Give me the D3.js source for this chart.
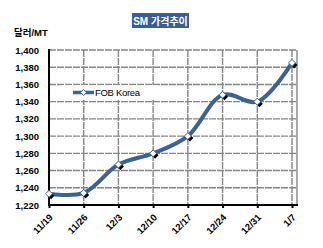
<!DOCTYPE html>
<html>
<head>
<meta charset="utf-8">
<script src="https://cdn.jsdelivr.net/npm/d3@7"></script>
<style>
  html, body { margin: 0; padding: 0; background: #fff; }
  svg { display: block; }
</style>
</head>
<body>
<svg id="chart"></svg>
<script>
// 데이터
const dates = ["11/19", "11/26", "12/3", "12/10", "12/17", "12/24", "12/31", "1/7"];
const fobKorea = [1233, 1234, 1267, 1280, 1300, 1348, 1340, 1385];
const yTicks = [1220, 1240, 1260, 1280, 1300, 1320, 1340, 1360, 1380, 1400];

const W = 323, H = 248;
const plot = { left: 49, right: 297, top: 50, bottom: 205 };
const lastX = 292;
const blue = "#3A6394";
const font = "'Liberation Sans', Arial, 'Noto Sans CJK KR', sans-serif";

const svg = d3.select("#chart")
  .attr("width", W)
  .attr("height", H)
  .style("font-family", font);

const x = d3.scalePoint().domain(dates).range([plot.left, lastX]);
const y = d3.scaleLinear().domain([1220, 1400]).range([plot.bottom, plot.top]);

// 제목
svg.append("rect")
  .attr("x", 132).attr("y", 13)
  .attr("width", 57).attr("height", 15)
  .attr("fill", "#3A5E8D");
svg.append("text")
  .attr("x", 160.5).attr("y", 24.5)
  .attr("text-anchor", "middle")
  .attr("fill", "#fff")
  .attr("font-size", 10)
  .attr("font-weight", "bold")
  .text("SM 가격추이");

// 단위
svg.append("text")
  .attr("x", 14).attr("y", 36)
  .attr("font-size", 9.5)
  .attr("font-weight", "bold")
  .text("달러/MT");

// 격자선
svg.append("g")
  .selectAll("line")
  .data(yTicks)
  .join("line")
  .attr("x1", plot.left).attr("x2", plot.right)
  .attr("y1", d => y(d)).attr("y2", d => y(d))
  .attr("stroke", "#858585")
  .attr("stroke-width", 1.4)
  .attr("stroke-dasharray", "7,1");

svg.append("g")
  .selectAll("line")
  .data(dates.slice(1))
  .join("line")
  .attr("x1", d => x(d)).attr("x2", d => x(d))
  .attr("y1", plot.top).attr("y2", plot.bottom)
  .attr("stroke", "#858585")
  .attr("stroke-width", 1.4)
  .attr("stroke-dasharray", "7,1");

// 오른쪽 테두리
svg.append("line")
  .attr("x1", plot.right).attr("x2", plot.right)
  .attr("y1", plot.top).attr("y2", plot.bottom)
  .attr("stroke", "#858585")
  .attr("stroke-width", 1.4);

// y축
const yAxis = svg.append("g")
  .attr("transform", "translate(" + plot.left + ",0)")
  .call(d3.axisLeft(y).tickValues(yTicks).tickSize(0).tickPadding(10).tickFormat(d3.format(",")));
yAxis.select(".domain").remove();
yAxis.selectAll("text")
  .attr("font-size", 9.5)
  .attr("font-weight", "bold")
  .attr("font-family", font)
  .attr("fill", "#000");
svg.append("line")
  .attr("x1", plot.left).attr("x2", plot.left)
  .attr("y1", plot.top - 1).attr("y2", plot.bottom + 1)
  .attr("stroke", "#000")
  .attr("stroke-width", 2);

// x축
const xAxis = svg.append("g")
  .attr("transform", "translate(0," + plot.bottom + ")")
  .call(d3.axisBottom(x).tickSize(3).tickPadding(4));
xAxis.select(".domain").remove();
xAxis.selectAll(".tick line").attr("stroke", "#000").attr("stroke-width", 2);
xAxis.selectAll("text")
  .attr("font-size", 9.5)
  .attr("font-weight", "bold")
  .attr("font-family", font)
  .attr("fill", "#000")
  .attr("text-anchor", "end")
  .attr("x", 0)
  .attr("y", 0)
  .attr("dy", 0)
  .attr("transform", "translate(4,13) rotate(-45)");
svg.append("line")
  .attr("x1", plot.left - 1).attr("x2", plot.right + 1)
  .attr("y1", plot.bottom).attr("y2", plot.bottom)
  .attr("stroke", "#000")
  .attr("stroke-width", 2);

// 범례
svg.append("rect")
  .attr("x", 62).attr("y", 85)
  .attr("width", 95).attr("height", 15)
  .attr("fill", "#fff");
svg.append("line")
  .attr("x1", 73).attr("x2", 94)
  .attr("y1", 92.5).attr("y2", 92.5)
  .attr("stroke", blue)
  .attr("stroke-width", 3.5);

const diamond = r => "M0," + (-r) + "L" + r + ",0L0," + r + "L" + (-r) + ",0Z";

svg.append("path")
  .attr("d", diamond(3))
  .attr("transform", "translate(83.5,92.5)")
  .attr("fill", "#fff")
  .attr("stroke", blue)
  .attr("stroke-width", 1);
svg.append("text")
  .attr("x", 95).attr("y", 96)
  .attr("font-size", 9.5)
  .attr("letter-spacing", -0.3)
  .text("FOB Korea");

// 선
const line = d3.line()
  .x((d, i) => x(dates[i]))
  .y(d => y(d))
  .curve(d3.curveCatmullRom.alpha(0.5));

svg.append("path")
  .datum(fobKorea)
  .attr("d", line)
  .attr("fill", "none")
  .attr("stroke", blue)
  .attr("stroke-width", 4)
  .attr("stroke-linejoin", "round");

// 마커 그림자
svg.append("g")
  .selectAll("path")
  .data(fobKorea)
  .join("path")
  .attr("d", diamond(3.5))
  .attr("transform", (d, i) => "translate(" + (x(dates[i]) + 2) + "," + (y(d) + 2) + ")")
  .attr("fill", "#000");

// 마커
svg.append("g")
  .selectAll("path")
  .data(fobKorea)
  .join("path")
  .attr("d", diamond(3.5))
  .attr("transform", (d, i) => "translate(" + x(dates[i]) + "," + y(d) + ")")
  .attr("fill", "#fff")
  .attr("stroke", blue)
  .attr("stroke-width", 1);
</script>
</body>
</html>
